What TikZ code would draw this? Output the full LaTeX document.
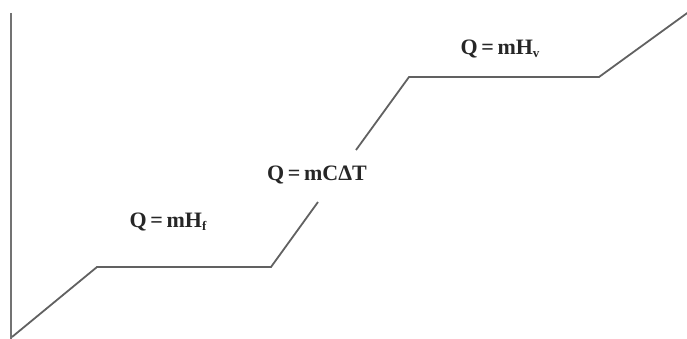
\documentclass[tikz,border=0pt]{standalone}
\usepackage{fontspec}
\setmainfont{Liberation Serif}
\begin{document}
\begin{tikzpicture}[x=1pt,y=-1pt,
  curve/.style={draw=black!62,line width=1.8pt,line join=miter},
  axis/.style={draw=black!55,line width=2.4pt},
  lbl/.style={text=black!85,font=\fontsize{22}{26}\selectfont\bfseries,inner sep=0pt},
  sub/.style={}]
\useasboundingbox (0,0) rectangle (687,339);
% axis
\coordinate (atop) at (11,13);
\coordinate (abot) at (11,339);
\draw[axis] (atop) -- (abot);
% curve points
\coordinate (p0) at (12,337);
\coordinate (p1) at (97,267);
\coordinate (p2) at (271,267);
\coordinate (g1) at (318,202);
\coordinate (g2) at (356,150);
\coordinate (p3) at (409,77);
\coordinate (p4) at (599,77);
\coordinate (p5) at (690,11);
\draw[curve] (p0) -- (p1) -- (p2) -- (g1);
\draw[curve] (g2) -- (p3) -- (p4) -- (p5);
% labels
\node[lbl] (hf) at (168,222) {Q\,=\,mH\raisebox{-0.25ex}{\fontsize{13}{14}\selectfont f}};
\node[lbl] (dt) at (317,175) {Q\,=\,mC\symbol{"0394}T};
\node[lbl] (hv) at (500,49) {Q\,=\,mH\raisebox{-0.25ex}{\fontsize{13}{14}\selectfont v}};
\end{tikzpicture}
\end{document}
